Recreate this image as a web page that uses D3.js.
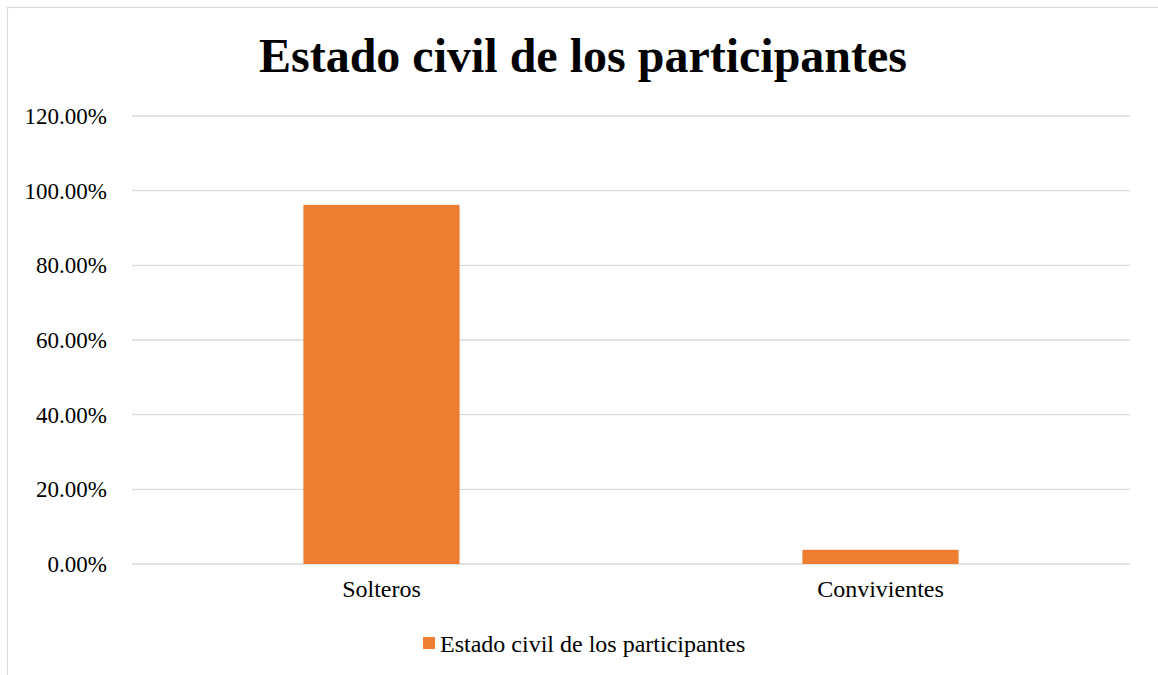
<!DOCTYPE html>
<html><head><meta charset="utf-8">
<script src="https://cdn.jsdelivr.net/npm/d3@7"></script>
<style>
html,body{margin:0;padding:0;background:#fff;}
svg{display:block;}
svg text{font-family:"Liberation Serif","Times New Roman",serif;fill:#000;}
</style></head>
<body>
<svg id="chart" width="1158" height="675"></svg>
<script>
const title = "Estado civil de los participantes";
const categories = ["Solteros", "Convivientes"];
const values = [0.962, 0.038];
const seriesName = "Estado civil de los participantes";
const yTicks = [0, 0.2, 0.4, 0.6, 0.8, 1.0, 1.2];

const svg = d3.select("#chart");
const W = 1158, H = 675;
const m = {left: 132, right: 28, top: 116, bottom: 111};

svg.append("rect").attr("x", 7.5).attr("y", 7.5).attr("width", W + 20).attr("height", H + 20)
  .attr("fill", "#fff").attr("stroke", "#d9d9d9").attr("stroke-width", 1.2);

const x = d3.scaleBand().domain(categories).range([m.left, W - m.right])
  .paddingInner(0.687).paddingOuter(0.687 / 2);
const y = d3.scaleLinear().domain([0, 1.2]).range([H - m.bottom, m.top]);

svg.append("g").selectAll("line").data(yTicks).join("line")
  .attr("x1", m.left).attr("x2", W - m.right)
  .attr("y1", d => y(d)).attr("y2", d => y(d))
  .attr("stroke", "#d9d9d9").attr("stroke-width", 1.3);

const yAxis = d3.axisLeft(y).tickValues(yTicks).tickSize(0).tickPadding(25)
  .tickFormat(d => (d * 100).toFixed(2) + "%");
svg.append("g").attr("transform", `translate(${m.left},0)`).call(yAxis)
  .call(g => g.select(".domain").remove())
  .call(g => g.selectAll("text").style("font-size", "23px"));

svg.append("g").selectAll("rect").data(values).join("rect")
  .attr("x", (d, i) => x(categories[i]))
  .attr("width", x.bandwidth())
  .attr("y", d => y(d))
  .attr("height", d => y(0) - y(d))
  .attr("fill", "#ED7D31");

const xAxis = d3.axisBottom(x).tickSize(0).tickPadding(16);
svg.append("g").attr("transform", `translate(0,${y(0)})`).call(xAxis)
  .call(g => g.select(".domain").remove())
  .call(g => g.selectAll("text").style("font-size", "24px"));

svg.append("text").attr("x", 583).attr("y", 72).attr("text-anchor", "middle")
  .style("font-size", "48px").style("font-weight", "bold").text(title);

const lg = svg.append("g");
lg.append("text").attr("x", 440).attr("y", 652).style("font-size", "24px").text(seriesName);
lg.append("rect").attr("x", 423).attr("y", 637).attr("width", 12).attr("height", 12).attr("fill", "#ED7D31");
</script>
</body></html>
